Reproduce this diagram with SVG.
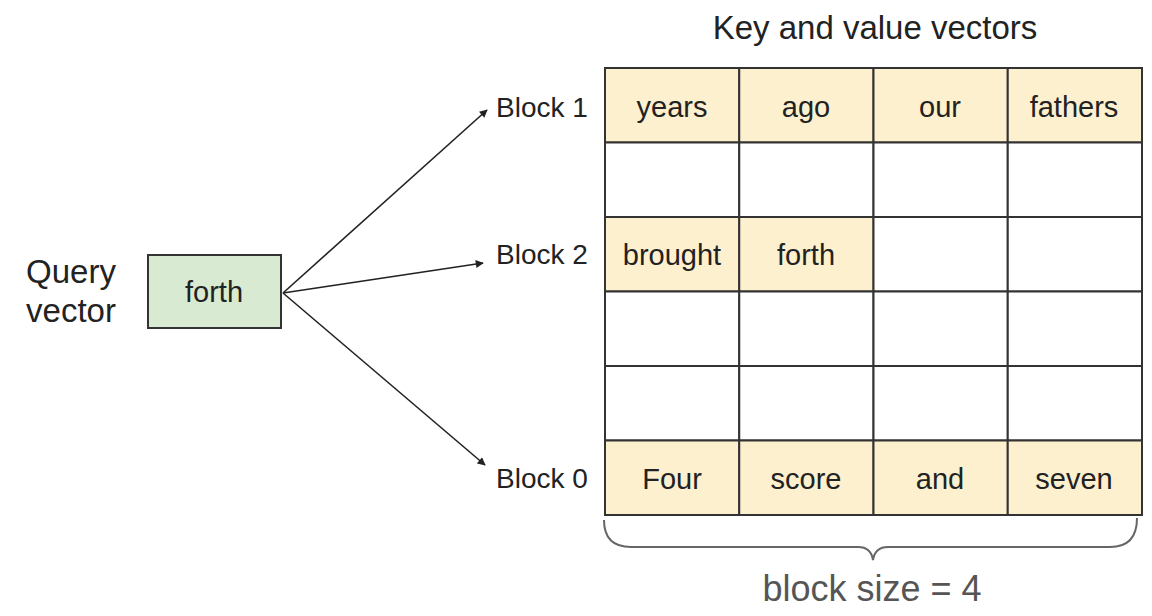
<svg xmlns="http://www.w3.org/2000/svg" width="1152" height="616" viewBox="0 0 1152 616">
  <style>
    text { font-family: "Liberation Sans", Arial, sans-serif; fill: #222; }
    .lbl { font-size: 33px; }
    .cell-t { font-size: 29px; text-anchor: middle; }
    .blk { font-size: 28px; }
    .cell { stroke: #333; stroke-width: 2; }
    .hl { fill: #fdf0cf; }
    .empty { fill: #ffffff; }
    .conn { stroke: #222; stroke-width: 1.6; fill: none; marker-end: url(#arrow); }
  </style>
  <defs>
    <marker id="arrow" viewBox="0 0 10 10" refX="9" refY="5" markerWidth="9" markerHeight="8" markerUnits="userSpaceOnUse" orient="auto">
      <path d="M0,0 L10,5 L0,10 z" fill="#222"/>
    </marker>
  </defs>
  <rect width="1152" height="616" fill="#ffffff"/>

  <text class="lbl" x="875" y="39" text-anchor="middle">Key and value vectors</text>

  <g id="query">
    <text class="lbl" x="71" y="283" text-anchor="middle">Query</text>
    <text class="lbl" x="71" y="322" text-anchor="middle">vector</text>
    <rect x="148" y="255" width="133" height="73" fill="#d9ead3" stroke="#333" stroke-width="2"/>
    <text class="cell-t" x="214" y="302">forth</text>
  </g>

  <g id="connectors">
    <line class="conn" x1="283" y1="293" x2="487" y2="110"/>
    <line class="conn" x1="283" y1="293" x2="483" y2="263"/>
    <line class="conn" x1="283" y1="293" x2="485" y2="465"/>
  </g>

  <g id="block-labels">
    <text class="blk" x="496" y="117">Block 1</text>
    <text class="blk" x="496" y="264">Block 2</text>
    <text class="blk" x="496" y="488">Block 0</text>
  </g>

  <g id="row-block1">
    <rect class="cell hl" x="605" y="68" width="134.25" height="74.5"/>
    <rect class="cell hl" x="739.25" y="68" width="134.25" height="74.5"/>
    <rect class="cell hl" x="873.5" y="68" width="134.25" height="74.5"/>
    <rect class="cell hl" x="1007.75" y="68" width="134.25" height="74.5"/>
    <text class="cell-t" x="672" y="117">years</text>
    <text class="cell-t" x="806" y="117">ago</text>
    <text class="cell-t" x="940" y="117">our</text>
    <text class="cell-t" x="1074" y="117">fathers</text>
  </g>

  <g id="row-empty1">
    <rect class="cell empty" x="605" y="142.5" width="134.25" height="74.5"/>
    <rect class="cell empty" x="739.25" y="142.5" width="134.25" height="74.5"/>
    <rect class="cell empty" x="873.5" y="142.5" width="134.25" height="74.5"/>
    <rect class="cell empty" x="1007.75" y="142.5" width="134.25" height="74.5"/>
  </g>

  <g id="row-block2">
    <rect class="cell hl" x="605" y="217" width="134.25" height="74.5"/>
    <rect class="cell hl" x="739.25" y="217" width="134.25" height="74.5"/>
    <rect class="cell empty" x="873.5" y="217" width="134.25" height="74.5"/>
    <rect class="cell empty" x="1007.75" y="217" width="134.25" height="74.5"/>
    <text class="cell-t" x="672" y="265">brought</text>
    <text class="cell-t" x="806" y="265">forth</text>
  </g>

  <g id="row-empty2">
    <rect class="cell empty" x="605" y="291.5" width="134.25" height="74.5"/>
    <rect class="cell empty" x="739.25" y="291.5" width="134.25" height="74.5"/>
    <rect class="cell empty" x="873.5" y="291.5" width="134.25" height="74.5"/>
    <rect class="cell empty" x="1007.75" y="291.5" width="134.25" height="74.5"/>
  </g>

  <g id="row-empty3">
    <rect class="cell empty" x="605" y="366" width="134.25" height="74.5"/>
    <rect class="cell empty" x="739.25" y="366" width="134.25" height="74.5"/>
    <rect class="cell empty" x="873.5" y="366" width="134.25" height="74.5"/>
    <rect class="cell empty" x="1007.75" y="366" width="134.25" height="74.5"/>
  </g>

  <g id="row-block0">
    <rect class="cell hl" x="605" y="440.5" width="134.25" height="74.5"/>
    <rect class="cell hl" x="739.25" y="440.5" width="134.25" height="74.5"/>
    <rect class="cell hl" x="873.5" y="440.5" width="134.25" height="74.5"/>
    <rect class="cell hl" x="1007.75" y="440.5" width="134.25" height="74.5"/>
    <text class="cell-t" x="672" y="489">Four</text>
    <text class="cell-t" x="806" y="489">score</text>
    <text class="cell-t" x="940" y="489">and</text>
    <text class="cell-t" x="1074" y="489">seven</text>
  </g>

  <g id="brace">
    <path d="M604,520 Q604,547 631,547 L858,547 Q871,547 873,560 Q875,547 888,547 L1110,547 Q1137,547 1137,518" fill="none" stroke="#666" stroke-width="2"/>
    <text x="872" y="601" text-anchor="middle" style="font-size:36px; fill:#555;">block size = 4</text>
  </g>
</svg>
